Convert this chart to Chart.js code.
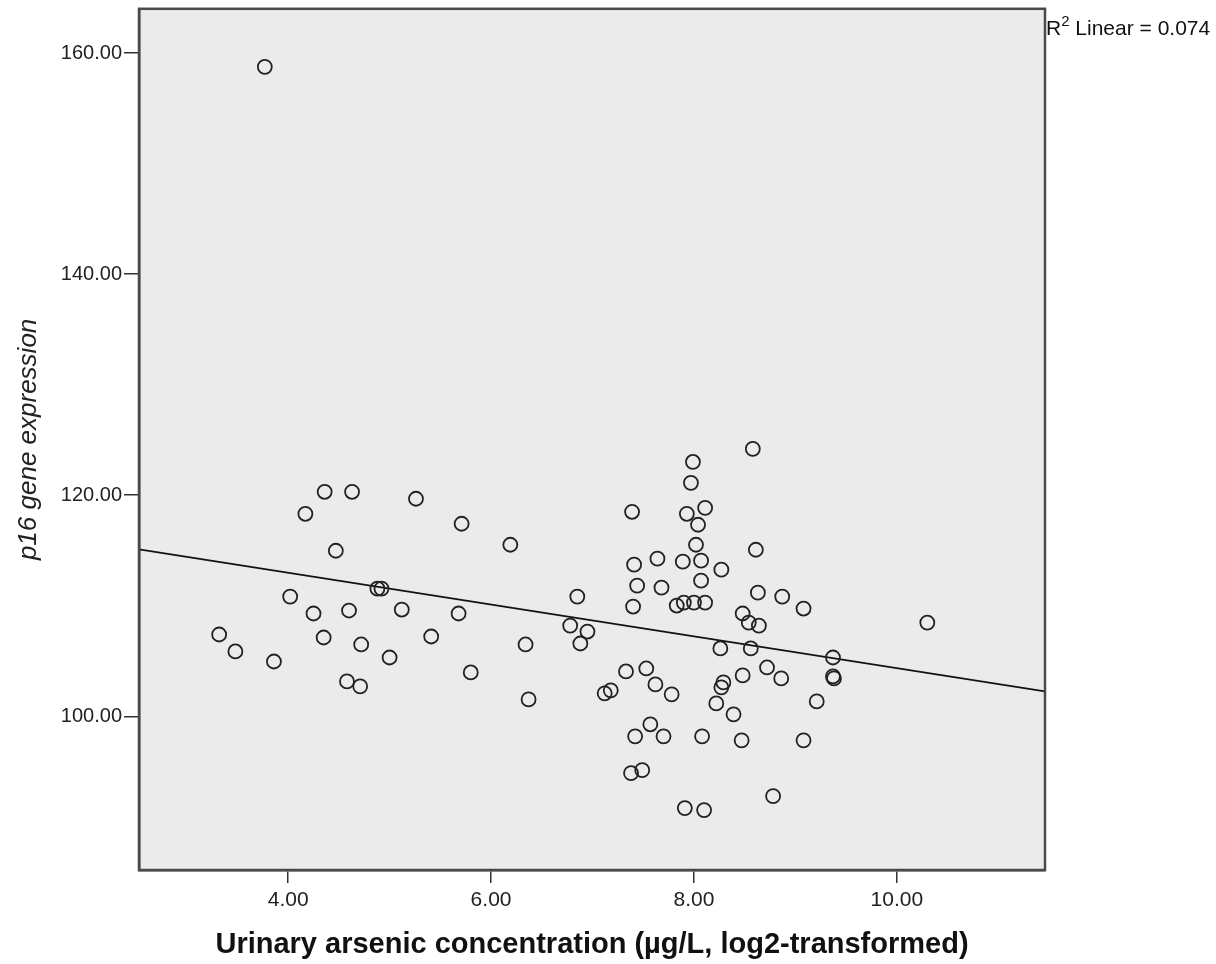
<!DOCTYPE html>
<html>
<head>
<meta charset="utf-8">
<script src="https://cdn.jsdelivr.net/npm/chart.js@4.4.1/dist/chart.umd.min.js"></script>
<style>
  html, body { margin: 0; padding: 0; background: #fff; }
  #wrap { width: 1216px; height: 964px; }
</style>
</head>
<body>
<div id="wrap"><canvas id="scatter"></canvas></div>
<script>
// urinary arsenic (log2) vs p16 expression
var arsenic = [
	3.77, 4.36, 4.63, 4.17, 5.26, 5.71, 4.47, 4.88, 4.92, 4.02,
	4.25, 4.60, 5.12, 5.68, 3.32, 3.48, 3.86, 4.35, 4.72, 5.00,
	5.41, 5.80, 4.58, 4.71, 6.19, 6.34, 6.37, 6.85, 6.78, 6.95,
	6.88, 7.39, 7.41, 7.44, 7.40, 7.64, 7.68, 7.33, 7.53, 7.62,
	7.78, 7.12, 7.18, 7.57, 7.42, 7.70, 7.38, 7.49, 7.99, 7.97,
	7.93, 8.11, 8.04, 8.02, 7.89, 8.07, 8.27, 8.07, 7.83, 7.90,
	8.00, 8.11, 8.58, 8.61, 8.63, 8.87, 9.08, 8.48, 8.54, 8.64,
	8.26, 8.56, 9.37, 9.37, 9.38, 8.72, 8.86, 8.48, 8.29, 8.27,
	8.22, 8.39, 9.21, 9.08, 8.47, 8.08, 8.78, 7.91, 8.10, 10.30
];
var p16 = [
	158.75, 120.31, 120.31, 118.32, 119.68, 117.42, 114.98, 111.55, 111.55, 110.83,
	109.30, 109.57, 109.66, 109.30, 107.40, 105.87, 104.96, 107.13, 106.50, 105.32,
	107.22, 103.97, 103.16, 102.71, 115.52, 106.50, 101.53, 110.83, 108.21, 107.67,
	106.59, 118.50, 113.72, 111.82, 109.93, 114.26, 111.64, 104.06, 104.33, 102.89,
	101.99, 102.08, 102.35, 99.28, 98.19, 98.19, 94.86, 95.13, 123.01, 121.12,
	118.32, 118.86, 117.33, 115.52, 113.99, 114.08, 113.27, 112.27, 110.02, 110.29,
	110.29, 110.29, 124.19, 115.07, 111.19, 110.83, 109.75, 109.30, 108.48, 108.21,
	106.14, 106.14, 105.32, 103.61, 103.43, 104.42, 103.43, 103.70, 103.07, 102.62,
	101.17, 100.18, 101.35, 97.83, 97.83, 98.19, 92.78, 91.70, 91.52, 108.48
];
// fit line end points at the frame edges
var fitX = [2.53, 11.46];
var fitY = [115.10, 102.26];
var xTicks = [4, 6, 8, 10];
var yTicks = [100, 120, 140, 160];
var r2Label = '0.074';

var points = arsenic.map(function (x, i) { return { x: x, y: p16[i] }; });
var fitLine = fitX.map(function (x, i) { return { x: x, y: fitY[i] }; });

var frame = {
	id: 'frame',
	beforeDraw: function (chart) {
		var a = chart.chartArea, ctx = chart.ctx;
		ctx.save();
		ctx.fillStyle = '#ebebeb';
		ctx.fillRect(a.left, a.top, a.right - a.left, a.bottom - a.top);
		ctx.restore();
	},
	afterDraw: function (chart) {
		var a = chart.chartArea, ctx = chart.ctx;
		ctx.save();
		ctx.strokeStyle = '#4a4a4a';
		ctx.lineWidth = 2.5;
		ctx.strokeRect(a.left, a.top, a.right - a.left, a.bottom - a.top);
		// R squared note, top right outside the frame
		ctx.fillStyle = '#111';
		ctx.textBaseline = 'alphabetic';
		ctx.font = '21px "Liberation Sans", Arial, sans-serif';
		var x = a.right + 1, y = 35;
		ctx.fillText('R', x, y);
		x += ctx.measureText('R').width;
		ctx.font = '15px "Liberation Sans", Arial, sans-serif';
		ctx.fillText('2', x, y - 9);
		x += ctx.measureText('2').width;
		ctx.font = '21px "Liberation Sans", Arial, sans-serif';
		ctx.fillText(' Linear = ' + r2Label, x, y);
		ctx.restore();
	}
};

var chart = new Chart(document.getElementById('scatter'), {
	type: 'scatter',
	plugins: [frame],
	data: {
		datasets: [{
			label: 'p16',
			data: points,
			pointStyle: 'circle',
			pointRadius: 7,
			pointHoverRadius: 7,
			backgroundColor: 'rgba(0,0,0,0)',
			borderColor: '#222',
			borderWidth: 1.8
		}, {
			type: 'line',
			label: 'Linear fit',
			data: fitLine,
			borderColor: '#111',
			borderWidth: 1.6,
			pointRadius: 0,
			fill: false
		}]
	},
	options: {
		responsive: true,
		maintainAspectRatio: false,
		animation: false,
		layout: { padding: { top: 7, right: 171, left: 0, bottom: 0 } },
		plugins: {
			legend: { display: false },
			tooltip: { enabled: false }
		},
		scales: {
			x: {
				type: 'linear',
				min: 2.53,
				max: 11.46,
				afterBuildTicks: function (s) { s.ticks = xTicks.map(function (v) { return { value: v }; }); },
				afterFit: function (s) { s.height = 94; s.paddingLeft = 0; s.paddingRight = 0; },
				grid: { drawOnChartArea: false, drawTicks: true, tickLength: 13, color: '#333', lineWidth: 1.5 },
				border: { display: true, color: '#4a4a4a', width: 2.5 },
				ticks: {
					color: '#222',
					padding: 5,
					maxRotation: 0,
					font: { family: '"Liberation Sans", Arial', size: 21 },
					callback: function (v) { return Number(v).toFixed(2); }
				},
				title: {
					display: true,
					text: 'Urinary arsenic concentration (µg/L, log2-transformed)',
					color: '#111',
					padding: { top: 4, bottom: 2 },
					font: { family: '"Liberation Sans", Arial', size: 29, weight: 'bold' }
				}
			},
			y: {
				type: 'linear',
				min: 86.1,
				max: 164,
				afterBuildTicks: function (s) { s.ticks = yTicks.map(function (v) { return { value: v }; }); },
				afterFit: function (s) { s.width = 139; s.paddingTop = 0; s.paddingBottom = 0; },
				grid: { drawOnChartArea: false, drawTicks: true, tickLength: 15, color: '#333', lineWidth: 1.5 },
				border: { display: true, color: '#4a4a4a', width: 2.5 },
				ticks: {
					color: '#222',
					padding: 2,
					font: { family: '"Liberation Sans", Arial', size: 20 },
					callback: function (v) { return Number(v).toFixed(2); }
				},
				title: {
					display: true,
					text: 'p16 gene expression',
					color: '#222',
					padding: { top: 13, bottom: 0 },
					font: { family: '"Liberation Sans", Arial', size: 26, style: 'italic' }
				}
			}
		}
	}
});
</script>
</body>
</html>
